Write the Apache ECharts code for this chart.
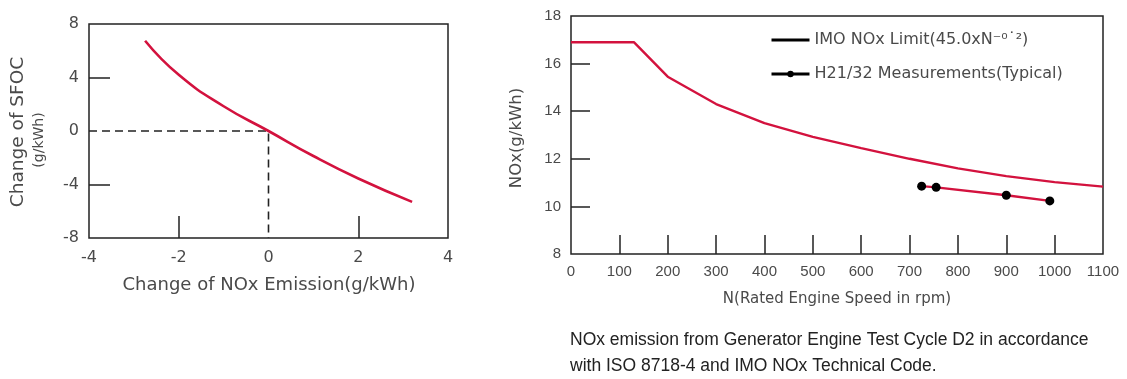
<!DOCTYPE html>
<html>
<head>
<meta charset="utf-8">
<script src="https://cdn.jsdelivr.net/npm/echarts@6/dist/echarts.min.js"></script>
<style>
html,body{margin:0;padding:0;background:#fff;}
#c{width:1127px;height:379px;}
</style>
</head>
<body>
<div id="c"></div>
<script>
// ---- Left chart data ----
const nox_change = [-2.75, -2, -1, 0, 1, 2, 3.2];
const sfoc_change = [6.75, 4.2, 1.85, 0, -1.87, -3.55, -5.3];
const ref_x = [-4, 0, 0];
const ref_y = [0, 0, -8];
const left_x_ticks = [-2, 2];
const left_y_ticks = [4, -4];

// ---- Right chart data ----
const imo_rpm = [0, 130, 200, 300, 400, 500, 600, 700, 800, 900, 1000, 1100];
const imo_nox = [16.9, 16.9, 15.45, 14.3, 13.5, 12.92, 12.45, 12.0, 11.6, 11.27, 11.02, 10.83];
const meas_rpm = [725, 755, 900, 990];
const meas_nox = [10.85, 10.8, 10.47, 10.23];
const right_x_ticks = [100, 200, 300, 400, 500, 600, 700, 800, 900, 1000];
const right_y_ticks = [16, 14, 12, 10];

const series_names = ['IMO NOx Limit(45.0xN\u207B\u2070\u02D9\u00B2)', 'H21/32 Measurements(Typical)'];

const RED = '#d3123e';
const AX = '#222';
const TXT = '#4a4a4a';
const FONT = 'DejaVu Sans';
const NARROW = 'Liberation Sans';

const chart = echarts.init(document.getElementById('c'));
const zip = (a, b) => a.map((v, i) => [v, b[i]]);
const plain = v => String(v);

chart.setOption({
  animation: false,
  backgroundColor: '#fff',
  grid: [
    {left: 89, top: 24, width: 359, height: 214, show: true, borderColor: AX, borderWidth: 1.5},
    {left: 571, top: 16, width: 532, height: 238, show: true, borderColor: AX, borderWidth: 1.5}
  ],
  xAxis: [
    {gridIndex: 0, type: 'value', min: -4, max: 4, interval: 2,
     axisLine: {show: false, onZero: false}, splitLine: {show: false},
     axisTick: {show: true, inside: true, length: 22, customValues: left_x_ticks, lineStyle: {color: AX, width: 1.5}},
     axisLabel: {margin: 12, color: TXT, fontFamily: FONT, fontSize: 16, formatter: plain}},
    {gridIndex: 1, type: 'value', min: 0, max: 1100, interval: 100,
     axisLine: {show: false, onZero: false}, splitLine: {show: false},
     axisTick: {show: true, inside: true, length: 19, customValues: right_x_ticks, lineStyle: {color: AX, width: 1.5}},
     axisLabel: {margin: 10, color: TXT, fontFamily: NARROW, fontSize: 15, formatter: plain}}
  ],
  yAxis: [
    {gridIndex: 0, type: 'value', min: -8, max: 8, interval: 4,
     axisLine: {show: false, onZero: false}, splitLine: {show: false},
     axisTick: {show: true, inside: true, length: 21, customValues: left_y_ticks, lineStyle: {color: AX, width: 1.5}},
     axisLabel: {margin: 10, color: TXT, fontFamily: FONT, fontSize: 16, formatter: plain}},
    {gridIndex: 1, type: 'value', min: 8, max: 18, interval: 2,
     axisLine: {show: false, onZero: false}, splitLine: {show: false},
     axisTick: {show: true, inside: true, length: 19, customValues: right_y_ticks, lineStyle: {color: AX, width: 1.5}},
     axisLabel: {margin: 10, color: TXT, fontFamily: NARROW, fontSize: 15, formatter: plain}}
  ],
  legend: {
    orient: 'vertical', left: 765, top: 27, itemWidth: 38, itemHeight: 8, itemGap: 18,
    symbolKeepAspect: true,
    textStyle: {color: TXT, fontFamily: FONT, fontSize: 16},
    data: [
      {name: series_names[0], icon: 'path://M0,0L38,0L38,3L0,3Z', itemStyle: {color: '#000'}},
      {name: series_names[1], itemStyle: {color: '#000'}, lineStyle: {color: '#000', width: 3}}
    ]
  },
  series: [
    {type: 'line', xAxisIndex: 0, yAxisIndex: 0, data: zip(ref_x, ref_y), symbol: 'none',
     lineStyle: {color: AX, width: 1.6, type: [8, 5]}, silent: true, z: 1},
    {type: 'line', xAxisIndex: 0, yAxisIndex: 0, data: zip(nox_change, sfoc_change), symbol: 'none', smooth: true,
     lineStyle: {color: RED, width: 2.6}, z: 3},
    {name: series_names[0], type: 'line', xAxisIndex: 1, yAxisIndex: 1, data: zip(imo_rpm, imo_nox), symbol: 'none',
     itemStyle: {color: '#000'}, lineStyle: {color: RED, width: 2.4}},
    {name: series_names[1], type: 'line', xAxisIndex: 1, yAxisIndex: 1, data: zip(meas_rpm, meas_nox),
     symbol: 'circle', symbolSize: 9, itemStyle: {color: '#000'}, lineStyle: {color: RED, width: 2.4}}
  ],
  graphic: [
    {type: 'text', x: 18, y: 132, rotation: Math.PI / 2,
     style: {text: 'Change of SFOC', fill: TXT, font: '18.5px "DejaVu Sans"', align: 'center', verticalAlign: 'middle'}},
    {type: 'text', x: 39, y: 140, rotation: Math.PI / 2,
     style: {text: '(g/kWh)', fill: TXT, font: '14px "DejaVu Sans"', align: 'center', verticalAlign: 'middle'}},
    {type: 'text', x: 269, y: 285,
     style: {text: 'Change of NOx Emission(g/kWh)', fill: TXT, font: '18px "DejaVu Sans"', align: 'center', verticalAlign: 'middle'}},
    {type: 'text', x: 517, y: 138, rotation: Math.PI / 2,
     style: {text: 'NOx(g/kWh)', fill: TXT, font: '16.5px "DejaVu Sans"', align: 'center', verticalAlign: 'middle'}},
    {type: 'text', x: 837, y: 299,
     style: {text: 'N(Rated Engine Speed in rpm)', fill: TXT, font: '15px "DejaVu Sans"', align: 'center', verticalAlign: 'middle'}},
    {type: 'text', x: 570, y: 340,
     style: {text: 'NOx emission from Generator Engine Test Cycle D2 in accordance', fill: '#222', font: '17.5px "Liberation Sans"', align: 'left', verticalAlign: 'middle'}},
    {type: 'text', x: 570, y: 366,
     style: {text: 'with ISO 8718-4 and IMO NOx Technical Code.', fill: '#222', font: '17.5px "Liberation Sans"', align: 'left', verticalAlign: 'middle'}}
  ]
});
</script>
</body>
</html>
